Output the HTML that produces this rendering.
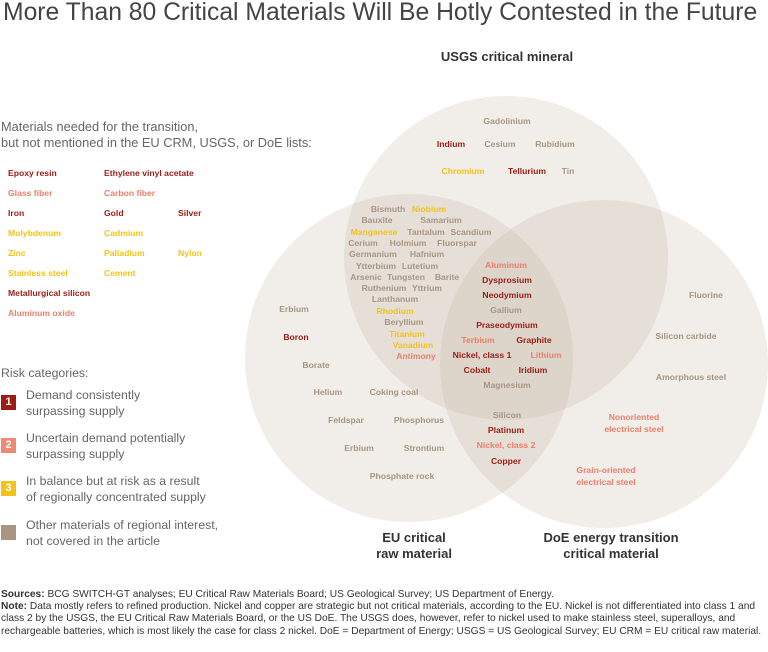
<!DOCTYPE html>
<html><head><meta charset="utf-8"><style>
body{margin:0;width:768px;height:652px;background:#fff;font-family:"Liberation Sans",sans-serif;position:relative;overflow:hidden;color:#555}
.t{position:absolute;white-space:nowrap;font-size:8.6px;font-weight:bold;transform:translateX(-50%)}
.l{position:absolute;white-space:nowrap;font-size:8.6px;font-weight:bold}
.r1{color:#9b1c14}.r2{color:#e8806a}.r3{color:#f3c21b}.r4{color:#a89682}
.lab{position:absolute;text-align:center;font-weight:bold;font-size:13px;color:#333;transform:translateX(-50%);line-height:16px}
.leg{position:absolute;font-size:12.3px;color:#666;line-height:16px}
.box{position:absolute;left:1px;width:15px;height:15px;color:#fff;font-size:11px;font-weight:bold;text-align:center;line-height:15px}
</style></head><body>
<div style="position:absolute;left:3px;top:-1px;font-size:24.7px;color:#444;white-space:nowrap">More Than 80 Critical Materials Will Be Hotly Contested in the Future</div>
<svg width="768" height="652" style="position:absolute;left:0;top:0">
<circle cx="506" cy="258" r="162" fill="rgba(190,172,155,0.22)"/>
<circle cx="409" cy="358" r="164" fill="rgba(190,172,155,0.22)"/>
<circle cx="604" cy="364" r="164" fill="rgba(190,172,155,0.22)"/>
</svg>
<div class="lab" style="left:507px;top:49px">USGS critical mineral</div>
<div class="lab" style="left:414px;top:530px">EU critical<br>raw material</div>
<div class="lab" style="left:611px;top:530px">DoE energy transition<br>critical material</div>
<div class="leg" style="left:1px;top:119px;font-size:12.8px">Materials needed for the transition,<br>but not mentioned in the EU CRM, USGS, or DoE lists:</div>
<div id="items"></div>
<div class="leg" style="left:1px;top:365px">Risk categories:</div>
<div class="box" style="top:395px;background:#9b1c14">1</div>
<div class="leg" style="left:26px;top:387px">Demand consistently<br>surpassing supply</div>
<div class="box" style="top:438px;background:#ee8a74">2</div>
<div class="leg" style="left:26px;top:430px">Uncertain demand potentially<br>surpassing supply</div>
<div class="box" style="top:481px;background:#f3c21b">3</div>
<div class="leg" style="left:26px;top:473px">In balance but at risk as a result<br>of regionally concentrated supply</div>
<div class="box" style="top:525px;background:#a89682"></div>
<div class="leg" style="left:26px;top:517px">Other materials of regional interest,<br>not covered in the article</div>
<div style="position:absolute;left:1px;top:589px;width:766px;font-size:10.2px;line-height:12.2px;color:#333"><b>Sources:</b> BCG SWITCH-GT analyses; EU Critical Raw Materials Board; US Geological Survey; US Department of Energy.<br><b>Note:</b> Data mostly refers to refined production. Nickel and copper are strategic but not critical materials, according to the EU. Nickel is not differentiated into class 1 and class 2 by the USGS, the EU Critical Raw Materials Board, or the US DoE. The USGS does, however, refer to nickel used to make stainless steel, superalloys, and rechargeable batteries, which is most likely the case for class 2 nickel. DoE = Department of Energy; USGS = US Geological Survey; EU CRM = EU critical raw material.</div>
<script>
const left=[["Epoxy resin",8,173,1],["Ethylene vinyl acetate",104,173,1],["Glass fiber",8,193,2],["Carbon fiber",104,193,2],["Iron",8,213,1],["Gold",104,213,1],["Silver",178,213,1],["Molybdenum",8,233,3],["Cadmium",104,233,3],["Zinc",8,253,3],["Palladium",104,253,3],["Nylon",178,253,3],["Stainless steel",8,273,3],["Cement",104,273,3],["Metallurgical silicon",8,293,1],["Aluminum oxide",8,313,2]];
const venn=[["Gadolinium",507,121,4],["Indium",451,144,1],["Cesium",500,144,4],["Rubidium",555,144,4],["Chromium",463,171,3],["Tellurium",527,171,1],["Tin",568,171,4],
["Bismuth",388,209,4],["Niobium",429,209,3],["Bauxite",377,220,4],["Samarium",441,220,4],["Manganese",374,232,3],["Tantalum",426,232,4],["Scandium",471,232,4],["Cerium",363,243,4],["Holmium",408,243,4],["Fluorspar",457,243,4],["Germanium",373,254,4],["Hafnium",427,254,4],["Ytterbium",376,266,4],["Lutetium",420,266,4],["Arsenic",366,277,4],["Tungsten",406,277,4],["Barite",447,277,4],["Ruthenium",384,288,4],["Yttrium",427,288,4],["Lanthanum",395,299,4],["Rhodium",395,311,3],["Beryllium",404,322,4],["Titanium",407,334,3],["Vanadium",413,345,3],["Antimony",416,356,2],
["Aluminum",506,265,2],["Dysprosium",507,280,1],["Neodymium",507,295,1],["Gallium",506,310,4],["Praseodymium",507,325,1],["Terbium",478,340,2],["Graphite",534,340,1],["Nickel, class 1",482,355,1],["Lithium",546,355,2],["Cobalt",477,370,1],["Iridium",533,370,1],["Magnesium",507,385,4],
["Erbium",294,309,4],["Boron",296,337,1],["Borate",316,365,4],["Helium",328,392,4],["Coking coal",394,392,4],["Feldspar",346,420,4],["Phosphorus",419,420,4],["Erbium",359,448,4],["Strontium",424,448,4],["Phosphate rock",402,476,4],
["Silicon",507,415,4],["Platinum",506,430,1],["Nickel, class 2",506,445,2],["Copper",506,461,1],
["Fluorine",706,295,4],["Silicon carbide",686,336,4],["Amorphous steel",691,377,4],["Nonoriented",634,417,2],["electrical steel",634,429,2],["Grain-oriented",606,470,2],["electrical steel",606,482,2]];
const box=document.getElementById('items');
left.forEach(d=>{const e=document.createElement('div');e.className='l r'+d[3];e.textContent=d[0];e.style.left=d[1]+'px';e.style.top=(d[2]-5)+'px';


box.appendChild(e);});
venn.forEach(d=>{const e=document.createElement('div');e.className='t r'+d[3];e.textContent=d[0];e.style.left=d[1]+'px';e.style.top=(d[2]-5)+'px';


box.appendChild(e);});
</script>
</body></html>
